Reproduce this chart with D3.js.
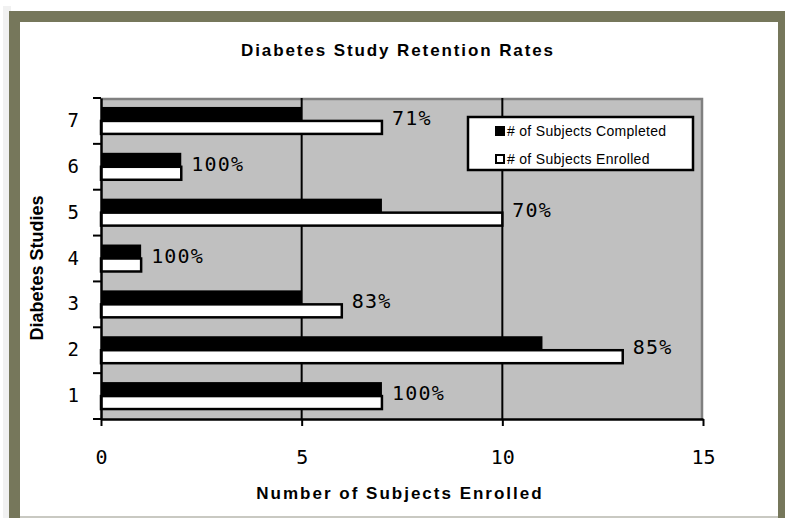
<!DOCTYPE html>
<html>
<head>
<meta charset="utf-8">
<script src="https://cdn.jsdelivr.net/npm/d3@7"></script>
<style>
  body { margin: 0; background: #fff; }
  .mono { font-family: "DejaVu Sans Mono", monospace; }
  .bold { font-family: "Liberation Sans", Arial, sans-serif; font-weight: bold; }
</style>
</head>
<body>
<div id="chart"></div>
<script>
// chart data
var studies = ["1", "2", "3", "4", "5", "6", "7"];
var completed = [7, 11, 5, 1, 7, 2, 5];
var enrolled = [7, 13, 6, 1, 10, 2, 7];
var retention = ["100%", "85%", "83%", "100%", "70%", "100%", "71%"];
var xTicks = [0, 5, 10, 15];
var seriesNames = ["# of Subjects Completed", "# of Subjects Enrolled"];

var width = 785, height = 518;
var plot = { left: 101, right: 703, top: 98, bottom: 419 };

var svg = d3.select("#chart").append("svg")
  .attr("width", width)
  .attr("height", height);

// frame around the chart
svg.append("rect").attr("x", 3).attr("y", 6).attr("width", 8).attr("height", height)
  .attr("fill", "#f1f1f1");
svg.append("rect").attr("x", 9).attr("y", 11).attr("width", width - 9).attr("height", height)
  .attr("fill", "#76775b");
svg.append("rect").attr("x", 20).attr("y", 22).attr("width", 758).attr("height", 495)
  .attr("fill", "#fff");
svg.append("line").attr("x1", 20).attr("x2", 778).attr("y1", 517).attr("y2", 517)
  .attr("stroke", "#c9c9c2").attr("stroke-width", 2);

var x = d3.scaleLinear().domain([0, 15]).range([plot.left, plot.right]);
var y = d3.scaleBand().domain(studies.slice().reverse()).range([plot.top, plot.bottom]);
var sub = d3.scaleBand().domain(seriesNames).range([0, y.bandwidth()]).paddingOuter(0.64);

// plot area
svg.append("rect")
  .attr("x", plot.left).attr("y", plot.top)
  .attr("width", plot.right - plot.left).attr("height", plot.bottom - plot.top)
  .attr("fill", "#c0c0c0");
svg.append("path")
  .attr("d", "M" + plot.left + "," + (plot.top + 1) + "H" + (plot.right - 1) + "V" + plot.bottom)
  .attr("fill", "none").attr("stroke", "#808080").attr("stroke-width", 2.5);

// vertical gridlines
svg.selectAll(".grid").data(xTicks.slice(1, -1)).enter().append("line")
  .attr("x1", function (d) { return x(d); })
  .attr("x2", function (d) { return x(d); })
  .attr("y1", plot.top).attr("y2", plot.bottom)
  .attr("stroke", "#000").attr("stroke-width", 2);

// bars
var rows = studies.map(function (s, i) {
  return { study: s, completed: completed[i], enrolled: enrolled[i], label: retention[i] };
});

svg.selectAll(".done").data(rows).enter().append("rect")
  .attr("x", x(0))
  .attr("y", function (d) { return y(d.study) + sub(seriesNames[0]); })
  .attr("width", function (d) { return x(d.completed) - x(0); })
  .attr("height", sub.bandwidth())
  .attr("fill", "#000");

svg.selectAll(".enr").data(rows).enter().append("rect")
  .attr("x", x(0))
  .attr("y", function (d) { return y(d.study) + sub(seriesNames[1]); })
  .attr("width", function (d) { return x(d.enrolled) - x(0); })
  .attr("height", sub.bandwidth() - 1)
  .attr("fill", "#fff")
  .attr("stroke", "#000").attr("stroke-width", 2.5);

// retention labels
svg.selectAll(".lbl").data(rows).enter().append("text")
  .attr("class", "mono")
  .attr("x", function (d) { return x(d.enrolled) + 10; })
  .attr("y", function (d) { return y(d.study) + y.bandwidth() / 2 - 3; })
  .attr("dy", "0.35em")
  .attr("font-size", 20)
  .attr("letter-spacing", 1.2)
  .attr("fill", "#000")
  .text(function (d) { return d.label; });

// axes
var xAxis = svg.append("g")
  .attr("transform", "translate(0," + plot.bottom + ")")
  .call(d3.axisBottom(x).tickValues(xTicks).tickSize(7).tickSizeOuter(0).tickPadding(24));
xAxis.select(".domain").attr("stroke", "#000").attr("stroke-width", 2.5);
xAxis.selectAll(".tick line").attr("stroke", "#000").attr("stroke-width", 2);
xAxis.selectAll("text").attr("class", "mono").attr("font-size", 20).attr("fill", "#000");

var yAxis = svg.append("g")
  .attr("transform", "translate(" + plot.left + ",0)")
  .call(d3.axisLeft(y).tickSize(0).tickPadding(22));
yAxis.select(".domain").attr("stroke", "#000").attr("stroke-width", 2.5);
yAxis.selectAll("text").attr("class", "mono").attr("font-size", 19).attr("fill", "#000");

// y ticks sit on the band edges
var edges = studies.map(function (s) { return y(s); }).concat([plot.bottom]);
svg.selectAll(".ytick").data(edges).enter().append("line")
  .attr("x1", plot.left - 8).attr("x2", plot.left)
  .attr("y1", function (d) { return d; }).attr("y2", function (d) { return d; })
  .attr("stroke", "#000").attr("stroke-width", 2);

// titles
svg.append("text").attr("class", "bold")
  .attr("x", 398).attr("y", 56)
  .attr("text-anchor", "middle")
  .attr("font-size", 17).attr("letter-spacing", 1.9)
  .text("Diabetes Study Retention Rates");

svg.append("text").attr("class", "bold")
  .attr("x", 400).attr("y", 499)
  .attr("text-anchor", "middle")
  .attr("font-size", 17).attr("letter-spacing", 2)
  .text("Number of Subjects Enrolled");

svg.append("text").attr("class", "bold")
  .attr("transform", "translate(43,268) rotate(-90)")
  .attr("text-anchor", "middle")
  .attr("font-size", 18)
  .text("Diabetes Studies");

// legend
var legend = svg.append("g").attr("transform", "translate(468,117)");
legend.append("rect").attr("width", 225).attr("height", 53)
  .attr("fill", "#fff").attr("stroke", "#000").attr("stroke-width", 2.5);
var items = legend.selectAll(".item").data(seriesNames).enter().append("g")
  .attr("transform", function (d, i) { return "translate(27," + (9 + i * 28) + ")"; });
items.append("rect").attr("width", 8).attr("height", 8)
  .attr("x", 1).attr("y", 1)
  .attr("fill", function (d, i) { return i === 0 ? "#000" : "#fff"; })
  .attr("stroke", "#000").attr("stroke-width", 2);
items.append("text")
  .attr("x", 12).attr("y", 5).attr("dy", "0.35em")
  .attr("font-family", "Liberation Sans, Arial, sans-serif")
  .attr("font-size", 14).attr("letter-spacing", 0.3)
  .text(function (d) { return d; });
</script>
</body>
</html>
